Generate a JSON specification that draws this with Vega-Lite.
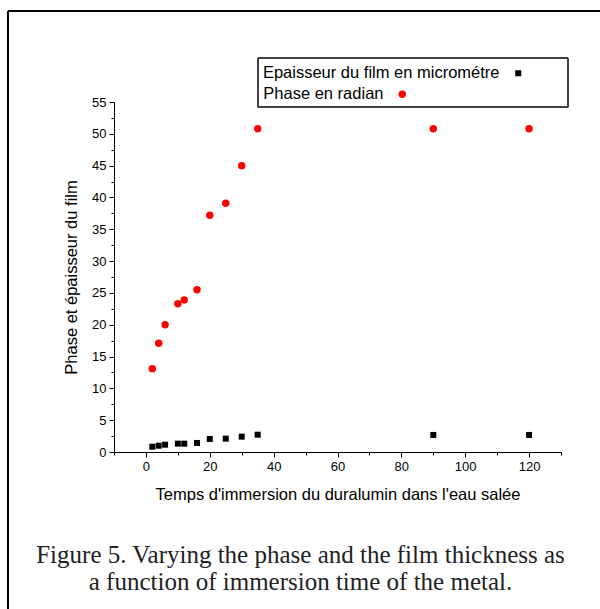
{
  "$schema": "https://vega.github.io/schema/vega-lite/v6.json",
  "width": 447,
  "height": 350,
  "autosize": {"type": "none"},
  "padding": {"left": 114, "top": 102, "right": 39, "bottom": 157},
  "background": "white",
  "config": {
    "view": {"stroke": null},
    "font": "Liberation Sans",
    "axis": {
      "domainColor": "black", "tickColor": "black", "labelColor": "black", "titleColor": "black",
      "grid": false, "labelFont": "Liberation Sans", "labelFontSize": 13,
      "titleFont": "Liberation Sans", "titleFontSize": 16.5, "titleFontWeight": "normal",
      "domainWidth": 1, "tickWidth": 1
    },
    "legend": {
      "labelFont": "Liberation Sans", "labelFontSize": 16.5, "labelColor": "black", "labelLimit": 400,
      "labelAlign": "right", "labelOffset": -27, "symbolStrokeWidth": 0, "padding": 0
    }
  },
  "data": {"values": [
    {"t": 2, "thickness": 0.83, "phase": 13.1},
    {"t": 4, "thickness": 0.99, "phase": 17.1},
    {"t": 6, "thickness": 1.15, "phase": 20.0},
    {"t": 10, "thickness": 1.31, "phase": 23.3},
    {"t": 12, "thickness": 1.31, "phase": 23.9},
    {"t": 16, "thickness": 1.42, "phase": 25.5},
    {"t": 20, "thickness": 2.05, "phase": 37.2},
    {"t": 25, "thickness": 2.1, "phase": 39.1},
    {"t": 30, "thickness": 2.41, "phase": 45.0},
    {"t": 35, "thickness": 2.72, "phase": 50.8},
    {"t": 90, "thickness": 2.68, "phase": 50.8},
    {"t": 120, "thickness": 2.68, "phase": 50.8}
  ]},
  "title": {
    "text": ["Figure 5. Varying the phase and the film thickness as", "a function of immersion time of the metal."],
    "orient": "bottom", "anchor": "middle", "frame": "group",
    "font": "Liberation Serif", "fontSize": 25, "fontWeight": "normal", "color": "#222222",
    "lineHeight": 27, "offset": -67, "dx": -37
  },
  "layer": [
    {
      "mark": {"type": "point", "filled": true, "color": "black", "size": 36, "opacity": 1},
      "encoding": {
        "x": {"field": "t", "type": "quantitative",
          "scale": {"domain": [-10, 130], "nice": false, "zero": false},
          "axis": {"orient": "bottom", "values": [0, 20, 40, 60, 80, 100, 120], "tickSize": 5, "labelPadding": 3,
            "title": "Temps d'immersion du duralumin dans l'eau salée", "titlePadding": 13}},
        "y": {"field": "thickness", "type": "quantitative",
          "scale": {"domain": [0, 55], "nice": false},
          "axis": {"orient": "left", "values": [0, 5, 10, 15, 20, 25, 30, 35, 40, 45, 50, 55], "tickSize": 5, "labelPadding": 3,
            "title": "Phase et épaisseur du film", "titlePadding": 12}},
        "shape": {"datum": "Epaisseur du film en micrométre", "scale": {"range": ["square"]},
          "legend": {"title": null, "orient": "none", "legendX": 396, "legendY": -37, "symbolFillColor": "black", "symbolSize": 36}}
      }
    },
    {
      "mark": {"type": "point", "filled": true, "shape": "circle", "size": 55, "opacity": 1},
      "encoding": {
        "x": {"field": "t", "type": "quantitative",
          "axis": {"orient": "bottom", "values": [-10, 10, 30, 50, 70, 90, 110, 130], "tickSize": 3, "labels": false, "domain": false, "title": null}},
        "y": {"field": "phase", "type": "quantitative",
          "axis": {"orient": "left", "values": [2.5, 7.5, 12.5, 17.5, 22.5, 27.5, 32.5, 37.5, 42.5, 47.5, 52.5], "tickSize": 3, "labels": false, "domain": false, "title": null}},
        "color": {"datum": "Phase en radian", "scale": {"range": ["#ff0000"]},
          "legend": {"title": null, "orient": "none", "legendX": 280, "legendY": -16, "symbolSize": 55}}
      }
    },
    {
      "mark": {"type": "rect", "fill": null, "fillOpacity": 0, "stroke": "#444444", "strokeWidth": 1},
      "encoding": {
        "x": {"datum": 35.1, "type": "quantitative", "axis": null},
        "x2": {"datum": 132.2},
        "y": {"datum": 61.9, "type": "quantitative", "axis": null},
        "y2": {"datum": 54.2}
      }
    },
    {
      "mark": {"type": "rule", "color": "black", "strokeWidth": 2},
      "encoding": {
        "x": {"datum": -43.2, "type": "quantitative", "axis": null},
        "x2": {"datum": 150},
        "y": {"datum": 69.3, "type": "quantitative", "axis": null}
      }
    },
    {
      "mark": {"type": "rule", "color": "black", "strokeWidth": 2},
      "encoding": {
        "x": {"datum": -43.2, "type": "quantitative", "axis": null},
        "y": {"datum": 69.3, "type": "quantitative", "axis": null},
        "y2": {"datum": -24.7}
      }
    }
  ],
  "resolve": {"axis": {"x": "independent", "y": "independent"}}
}
